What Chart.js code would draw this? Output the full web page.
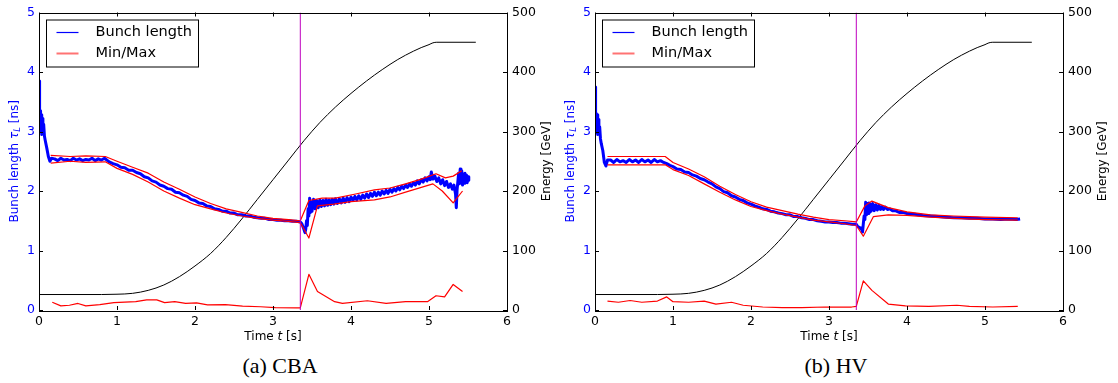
<!DOCTYPE html>
<html>
<head>
<meta charset="utf-8">
<script src="https://cdn.jsdelivr.net/npm/chart.js@4.4.1/dist/chart.umd.min.js"></script>
<style>
    body { margin: 0; background: #fff; width: 1118px; height: 383px; overflow: hidden; position: relative; }
    .panel { position: absolute; top: 0; width: 556px; height: 383px; }
    .panel canvas { position: absolute; left: 0; top: 0; }
    .caption { position: absolute; left: 0; width: 560px; top: 353px; text-align: center;
               font-family: 'Liberation Serif', 'DejaVu Serif', serif; font-size: 22px; line-height: 25px; color: #000; }
</style>
</head>
<body>
<div class="panel" style="left:0"><canvas id="cbaChart" width="556" height="345"></canvas><div class="caption">(a) CBA</div></div>
<div class="panel" style="left:556px"><canvas id="hvChart" width="556" height="345"></canvas><div class="caption">(b) HV</div></div>
<script>
// energy ramp (same in both runs), GeV on the right axis
const energyT = [0, 0.8, 1.0, 1.2, 1.4, 1.6, 1.8, 2.0, 2.2, 2.4, 2.6, 2.8, 3.0, 3.2, 3.4, 3.6, 3.8, 4.0, 4.2, 4.4, 4.6, 4.8, 4.9, 5.0, 5.05, 5.1, 5.6];
const energyGeV = [26, 26, 26.5, 28, 33, 42, 56, 74, 95, 122, 153, 186, 219, 252, 285, 315, 341, 364, 385, 404, 421, 435, 441, 446, 449, 450, 450];

// time of the switch (magenta marker)
const switchT = 3.35;

// --- CBA ---
const cbaBlueT = [0.00, 0.005, 0.01, 0.015, 0.02, 0.03, 0.035, 0.04, 0.05, 0.06, 0.07, 0.08, 0.10, 0.12, 0.14, 0.16,
    0.20, 0.24, 0.28, 0.32, 0.36, 0.40, 0.44, 0.48, 0.52, 0.56, 0.60, 0.64, 0.68, 0.72, 0.76, 0.80, 0.84,
    0.90, 0.95, 1.00, 1.05, 1.10, 1.15, 1.20, 1.25, 1.30, 1.35, 1.40, 1.45, 1.50, 1.55, 1.60, 1.65, 1.70, 1.75,
    1.80, 1.85, 1.90, 1.95, 2.00, 2.05, 2.10, 2.15, 2.20, 2.25, 2.30, 2.35, 2.40, 2.45, 2.50, 2.55, 2.60, 2.65,
    2.70, 2.75, 2.80, 2.85, 2.90, 2.95, 3.00, 3.05, 3.10, 3.15, 3.20, 3.25, 3.30, 3.35,
    3.37, 3.39, 3.41, 3.42, 3.43, 3.44, 3.45, 3.46, 3.47, 3.48, 3.49, 3.50, 3.52, 3.54, 3.56, 3.58, 3.60, 3.62,
    3.64, 3.66, 3.68, 3.70, 3.72, 3.74, 3.76, 3.78, 3.80, 3.825, 3.85, 3.875, 3.90, 3.925, 3.95, 3.975,
    4.00, 4.025, 4.05, 4.075, 4.10, 4.125, 4.15, 4.175, 4.20, 4.225, 4.25, 4.275, 4.30, 4.325, 4.35, 4.375,
    4.40, 4.425, 4.45, 4.475, 4.50, 4.525, 4.55, 4.575, 4.60, 4.625, 4.65, 4.675, 4.70, 4.725, 4.75, 4.775,
    4.80, 4.825, 4.85, 4.875, 4.90, 4.925, 4.95, 4.975, 5.00, 5.015, 5.03, 5.05, 5.075, 5.10, 5.125, 5.15,
    5.175, 5.20, 5.225, 5.25, 5.275, 5.30, 5.32, 5.34, 5.35, 5.36, 5.38, 5.39, 5.40, 5.41, 5.42, 5.43, 5.44,
    5.45, 5.46, 5.47, 5.48, 5.49, 5.50, 5.51];
const cbaBlue = [3.85, 3.20, 3.05, 3.35, 3.00, 3.28, 2.95, 3.22, 3.00, 3.12, 2.92, 2.85, 2.72, 2.58, 2.50, 2.55,
    2.54, 2.51, 2.55, 2.52, 2.53, 2.51, 2.55, 2.52, 2.54, 2.51, 2.53, 2.52, 2.55, 2.51, 2.54, 2.52, 2.55,
    2.49, 2.46, 2.44, 2.40, 2.39, 2.35, 2.35, 2.31, 2.29, 2.24, 2.22, 2.17, 2.15, 2.10, 2.08, 2.04, 2.03, 1.98,
    1.97, 1.93, 1.91, 1.86, 1.84, 1.80, 1.79, 1.75, 1.74, 1.70, 1.69, 1.66, 1.66, 1.63, 1.63, 1.60, 1.60, 1.58,
    1.58, 1.56, 1.55, 1.54, 1.54, 1.52, 1.52, 1.51, 1.51, 1.50, 1.50, 1.49, 1.49, 1.48,
    1.45, 1.38, 1.30, 1.36, 1.50, 1.42, 1.70, 1.58, 1.88, 1.64, 1.82, 1.66, 1.86, 1.70, 1.84, 1.72, 1.85, 1.74,
    1.84, 1.75, 1.86, 1.76, 1.85, 1.77, 1.86, 1.78, 1.87, 1.79, 1.87, 1.80, 1.88, 1.81, 1.89, 1.82,
    1.90, 1.84, 1.91, 1.85, 1.92, 1.86, 1.93, 1.88, 1.95, 1.89, 1.96, 1.91, 1.98, 1.92, 1.98, 1.93,
    2.00, 1.95, 2.01, 1.96, 2.03, 1.98, 2.04, 2.00, 2.06, 2.02, 2.08, 2.04, 2.10, 2.06, 2.12, 2.08,
    2.14, 2.10, 2.17, 2.12, 2.19, 2.15, 2.22, 2.17, 2.24, 2.19, 2.32, 2.20, 2.25, 2.16, 2.22, 2.12,
    2.19, 2.09, 2.16, 2.06, 2.12, 2.03, 2.10, 1.95, 1.72, 2.02, 2.30, 2.12, 2.37, 2.16, 2.34, 2.10, 2.28,
    2.13, 2.30, 2.15, 2.27, 2.14, 2.24, 2.18];
const cbaMaxT = [0.15, 0.40, 0.60, 0.85, 1.00, 1.20, 1.40, 1.60, 1.80, 2.00, 2.20, 2.40, 2.60, 2.80, 3.00, 3.20, 3.35,
    3.46, 3.63, 3.80, 4.06, 4.30, 4.50, 4.70, 4.90, 5.09, 5.21, 5.31, 5.42];
const cbaMax = [2.60, 2.58, 2.59, 2.58, 2.50, 2.40, 2.30, 2.15, 2.03, 1.90, 1.79, 1.70, 1.64, 1.58, 1.54, 1.52, 1.50,
    1.84, 1.88, 1.88, 1.95, 2.02, 2.05, 2.12, 2.20, 2.29, 2.22, 2.25, 2.34];
const cbaMinT = [0.15, 0.40, 0.60, 0.85, 1.00, 1.20, 1.40, 1.60, 1.80, 2.00, 2.20, 2.40, 2.60, 2.80, 3.00, 3.20, 3.35,
    3.46, 3.57, 3.78, 4.00, 4.30, 4.50, 4.70, 5.05, 5.17, 5.31, 5.43];
const cbaMin = [2.47, 2.50, 2.48, 2.49, 2.38, 2.28, 2.15, 2.00, 1.88, 1.77, 1.70, 1.63, 1.58, 1.54, 1.51, 1.49, 1.47,
    1.21, 1.75, 1.78, 1.82, 1.85, 1.90, 1.98, 2.12, 2.00, 1.80, 2.00];
const cbaSpreadT = [0.17, 0.28, 0.39, 0.50, 0.60, 0.78, 0.96, 1.24, 1.38, 1.51, 1.61, 1.74, 1.88, 2.02, 2.16, 2.39,
    2.61, 2.84, 3.03, 3.30, 3.35, 3.46, 3.57, 3.79, 3.89, 4.21, 4.45, 4.70, 4.98, 5.09, 5.20, 5.31, 5.43];
const cbaSpread = [0.13, 0.07, 0.08, 0.11, 0.07, 0.09, 0.125, 0.14, 0.17, 0.17, 0.125, 0.14, 0.11, 0.12, 0.085, 0.09,
    0.065, 0.055, 0.04, 0.035, 0.035, 0.60, 0.31, 0.14, 0.11, 0.155, 0.11, 0.14, 0.14, 0.24, 0.22, 0.43, 0.31];

// --- HV ---
const hvBlueT = [0.00, 0.005, 0.01, 0.015, 0.02, 0.03, 0.035, 0.04, 0.05, 0.06, 0.07, 0.08, 0.10, 0.12, 0.14, 0.16,
    0.20, 0.24, 0.28, 0.32, 0.36, 0.40, 0.44, 0.48, 0.52, 0.56, 0.60, 0.64, 0.68, 0.72, 0.76, 0.80, 0.84, 0.88,
    0.92, 0.96, 1.00, 1.05, 1.10, 1.15, 1.20, 1.25, 1.30, 1.35, 1.40, 1.45, 1.50, 1.55, 1.60, 1.65, 1.70, 1.75,
    1.80, 1.85, 1.90, 1.95, 2.00, 2.05, 2.10, 2.15, 2.20, 2.25, 2.30, 2.35, 2.40, 2.45, 2.50, 2.55, 2.60, 2.65,
    2.70, 2.75, 2.80, 2.85, 2.90, 2.95, 3.00, 3.05, 3.10, 3.15, 3.20, 3.25, 3.30, 3.35,
    3.37, 3.39, 3.41, 3.42, 3.43, 3.44, 3.45, 3.46, 3.47, 3.48, 3.49, 3.50, 3.51, 3.52, 3.53, 3.54, 3.56, 3.58,
    3.60, 3.62, 3.64, 3.66, 3.68, 3.70, 3.72, 3.75, 3.78, 3.81, 3.85, 3.90, 3.95, 4.00, 4.10, 4.20, 4.30, 4.40,
    4.50, 4.60, 4.70, 4.80, 4.90, 5.00, 5.10, 5.20, 5.30, 5.40, 5.45];
const hvBlue = [3.75, 3.10, 3.00, 3.30, 2.98, 3.28, 2.95, 3.20, 2.98, 3.08, 2.88, 2.80, 2.68, 2.48, 2.42, 2.52,
    2.52, 2.48, 2.53, 2.49, 2.51, 2.48, 2.53, 2.49, 2.52, 2.48, 2.53, 2.49, 2.52, 2.48, 2.53, 2.49, 2.51, 2.48,
    2.46, 2.43, 2.41, 2.37, 2.36, 2.32, 2.31, 2.27, 2.25, 2.21, 2.19, 2.15, 2.12, 2.07, 2.04, 1.99, 1.97, 1.92,
    1.90, 1.86, 1.84, 1.80, 1.78, 1.75, 1.73, 1.70, 1.69, 1.66, 1.65, 1.63, 1.62, 1.60, 1.60, 1.57, 1.57, 1.55,
    1.54, 1.52, 1.52, 1.50, 1.49, 1.48, 1.48, 1.47, 1.47, 1.46, 1.46, 1.45, 1.44, 1.44,
    1.40, 1.39, 1.36, 1.38, 1.31, 1.45, 1.58, 1.52, 1.81, 1.60, 1.79, 1.62, 1.80, 1.64, 1.78, 1.66, 1.79, 1.67,
    1.77, 1.68, 1.76, 1.69, 1.74, 1.69, 1.73, 1.69, 1.70, 1.67, 1.67, 1.64, 1.64, 1.62, 1.61, 1.59, 1.58, 1.57,
    1.56, 1.55, 1.55, 1.54, 1.54, 1.53, 1.53, 1.52, 1.53, 1.52, 1.53];
const hvMaxT = [0.16, 0.90, 1.00, 1.20, 1.40, 1.60, 1.80, 2.00, 2.20, 2.40, 2.60, 2.80, 3.00, 3.20, 3.35,
    3.46, 3.55, 3.76, 4.00, 4.30, 4.60, 5.00, 5.42];
const hvMax = [2.58, 2.58, 2.48, 2.37, 2.24, 2.08, 1.94, 1.82, 1.73, 1.67, 1.61, 1.56, 1.52, 1.50, 1.48,
    1.75, 1.83, 1.72, 1.65, 1.60, 1.58, 1.56, 1.55];
const hvMinT = [0.16, 0.90, 1.00, 1.20, 1.40, 1.60, 1.80, 2.00, 2.20, 2.40, 2.60, 2.80, 3.00, 3.20, 3.35,
    3.44, 3.57, 3.76, 4.00, 4.30, 4.60, 5.00, 5.42];
const hvMin = [2.44, 2.44, 2.36, 2.26, 2.12, 1.98, 1.85, 1.74, 1.67, 1.61, 1.56, 1.51, 1.48, 1.45, 1.42,
    1.24, 1.57, 1.60, 1.59, 1.56, 1.54, 1.52, 1.51];
const hvSpreadT = [0.16, 0.30, 0.45, 0.60, 0.80, 0.92, 1.00, 1.20, 1.40, 1.55, 1.75, 1.90, 2.15, 2.40, 2.65, 2.95,
    3.29, 3.35, 3.44, 3.55, 3.76, 3.98, 4.28, 4.64, 4.80, 5.10, 5.42];
const hvSpread = [0.15, 0.13, 0.16, 0.13, 0.15, 0.22, 0.14, 0.13, 0.15, 0.10, 0.13, 0.08, 0.05, 0.04, 0.04, 0.05,
    0.05, 0.06, 0.49, 0.33, 0.10, 0.07, 0.06, 0.08, 0.06, 0.05, 0.06];

const BLUE = '#0000ff';
const RED = '#ff0000';
const MAGENTA = '#bf00bf';
const FONT = 'DejaVu Sans';

const pts = (xs, ys) => xs.map((x, i) => ({ x: x, y: ys[i] }));

// matplotlib-like frame, inward ticks, axis titles and legend
const mplLook = {
    id: 'mplLook',
    afterDatasetsDraw(chart) {
        const { ctx, chartArea: a, scales } = chart;
        ctx.save();
        ctx.strokeStyle = '#000';
        ctx.lineWidth = 1;
        ctx.beginPath();
        scales.x.ticks.forEach(t => {
            const px = Math.round(scales.x.getPixelForValue(t.value)) + 0.5;
            ctx.moveTo(px, a.bottom); ctx.lineTo(px, a.bottom - 4);
            ctx.moveTo(px, a.top); ctx.lineTo(px, a.top + 4);
        });
        scales.y.ticks.forEach(t => {
            const py = Math.round(scales.y.getPixelForValue(t.value)) + 0.5;
            ctx.moveTo(a.left, py); ctx.lineTo(a.left + 4, py);
        });
        scales.y2.ticks.forEach(t => {
            const py = Math.round(scales.y2.getPixelForValue(t.value)) + 0.5;
            ctx.moveTo(a.right, py); ctx.lineTo(a.right - 4, py);
        });
        ctx.stroke();
        ctx.strokeRect(Math.round(a.left) + 0.5, Math.round(a.top) + 0.5,
            Math.round(a.right - a.left), Math.round(a.bottom - a.top));
        ctx.restore();
    },
    afterDraw(chart) {
        const { ctx, chartArea: a } = chart;
        const midY = (a.top + a.bottom) / 2;
        ctx.save();

        // x title: Time t [s]
        ctx.fillStyle = '#000';
        ctx.textBaseline = 'middle';
        const f = '12px "' + FONT + '"';
        const fi = 'italic 12px "' + FONT + '"';
        const xParts = [['Time ', f], ['t', fi], [' [s]', f]];
        let w = 0;
        xParts.forEach(p => { ctx.font = p[1]; w += ctx.measureText(p[0]).width; });
        let cx = (a.left + a.right) / 2 - w / 2;
        xParts.forEach(p => { ctx.font = p[1]; ctx.fillText(p[0], cx, 337); cx += ctx.measureText(p[0]).width; });

        // left title: Bunch length tau_L [ns]
        ctx.save();
        ctx.translate(15, midY);
        ctx.rotate(-Math.PI / 2);
        ctx.fillStyle = BLUE;
        const yParts = [['Bunch length ', f, 0], ['τ', fi, 0], ['L', 'italic 8.5px "' + FONT + '"', 3], [' [ns]', f, 0]];
        w = 0;
        yParts.forEach(p => { ctx.font = p[1]; w += ctx.measureText(p[0]).width; });
        cx = -w / 2;
        yParts.forEach(p => { ctx.font = p[1]; ctx.fillText(p[0], cx, p[2]); cx += ctx.measureText(p[0]).width; });
        ctx.restore();

        // right title: Energy [GeV]
        ctx.save();
        ctx.translate(a.right + 40, midY);
        ctx.rotate(-Math.PI / 2);
        ctx.font = f;
        ctx.textAlign = 'center';
        ctx.fillText('Energy [GeV]', 0, 0);
        ctx.restore();

        // legend box
        const lx = a.left + 7.5, ly = a.top + 7.5, lw = 152, lh = 47;
        ctx.fillStyle = '#fff';
        ctx.fillRect(lx, ly, lw, lh);
        ctx.strokeStyle = '#000';
        ctx.lineWidth = 1;
        ctx.strokeRect(lx, ly, lw, lh);
        const items = chart.data.datasets.filter(d => d.inLegend);
        items.forEach((d, i) => {
            const yy = ly + 12.5 + i * 21;
            ctx.strokeStyle = d.legendColor || d.borderColor;
            ctx.lineWidth = d.legendWidth || 1;
            ctx.beginPath();
            ctx.moveTo(lx + 10, yy); ctx.lineTo(lx + 32, yy);
            ctx.stroke();
            ctx.fillStyle = '#000';
            ctx.font = '14.5px "' + FONT + '"';
            ctx.textBaseline = 'middle';
            ctx.fillText(d.label, lx + 49, yy);
        });
        ctx.restore();
    }
};

function makePanel(canvasId, blueT, blue, maxT, maxV, minT, minV, spreadT, spread) {
    const line = { pointRadius: 0, tension: 0, fill: false, borderJoinStyle: 'round' };
    new Chart(document.getElementById(canvasId), {
        type: 'line',
        data: {
            datasets: [
                { ...line, label: 'Energy', data: pts(energyT, energyGeV), yAxisID: 'y2',
                  borderColor: '#000', borderWidth: 1, cubicInterpolationMode: 'monotone', order: 4 },
                { ...line, label: 'Bunch length', data: pts(blueT, blue), yAxisID: 'y',
                  borderColor: BLUE, borderWidth: 3, order: 3, inLegend: true, legendWidth: 1.2 },
                { ...line, label: 'Min/Max', data: pts(maxT, maxV), yAxisID: 'y',
                  borderColor: RED, borderWidth: 1.2, order: 2, inLegend: true,
                  legendColor: 'rgba(255,0,0,0.55)', legendWidth: 2 },
                { ...line, label: 'Min', data: pts(minT, minV), yAxisID: 'y',
                  borderColor: RED, borderWidth: 1.2, order: 2 },
                { ...line, label: 'Spread', data: pts(spreadT, spread), yAxisID: 'y',
                  borderColor: RED, borderWidth: 1.2, order: 2 },
                { ...line, label: 'Switch', data: pts([switchT, switchT], [0, 5]), yAxisID: 'y',
                  borderColor: MAGENTA, borderWidth: 1, order: 1 }
            ]
        },
        options: {
            responsive: false,
            animation: false,
            events: [],
            layout: { padding: { top: 12, left: 0, right: 0, bottom: 0 } },
            plugins: { legend: { display: false }, tooltip: { enabled: false } },
            scales: {
                x: {
                    type: 'linear', min: 0, max: 6,
                    grid: { display: false, drawTicks: false }, border: { display: false },
                    ticks: { stepSize: 1, color: '#000', padding: 4, maxRotation: 0, font: { family: FONT, size: 12.5 } },
                    afterFit(s) { s.height = 35; }
                },
                y: {
                    type: 'linear', position: 'left', min: 0, max: 5,
                    grid: { display: false, drawTicks: false }, border: { display: false },
                    ticks: { stepSize: 1, color: BLUE, padding: 4, font: { family: FONT, size: 12.5 } },
                    afterFit(s) { s.width = 39; }
                },
                y2: {
                    type: 'linear', position: 'right', min: 0, max: 500,
                    grid: { display: false, drawTicks: false }, border: { display: false },
                    ticks: { stepSize: 100, color: '#000', padding: 5, font: { family: FONT, size: 12.5 } },
                    afterFit(s) { s.width = 49; }
                }
            }
        },
        plugins: [mplLook]
    });
}

makePanel('cbaChart', cbaBlueT, cbaBlue, cbaMaxT, cbaMax, cbaMinT, cbaMin, cbaSpreadT, cbaSpread);
makePanel('hvChart', hvBlueT, hvBlue, hvMaxT, hvMax, hvMinT, hvMin, hvSpreadT, hvSpread);
</script>
</body>
</html>
